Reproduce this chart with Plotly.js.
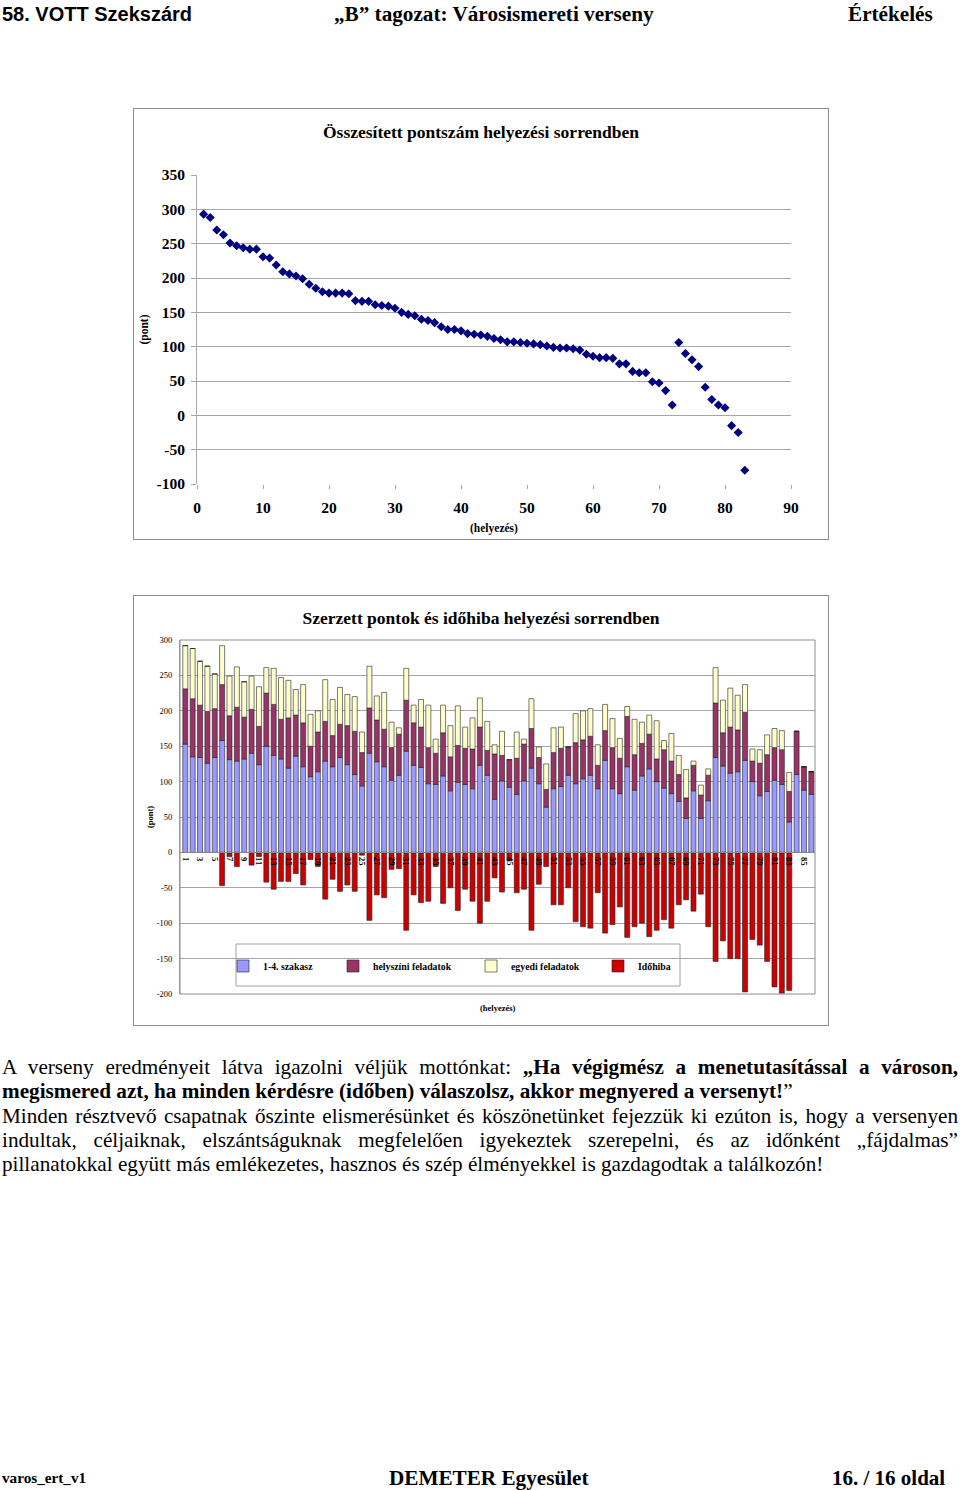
<!DOCTYPE html>
<html><head><meta charset="utf-8">
<script src="https://cdn.plot.ly/plotly-3.0.1.min.js"></script>
<style>
html,body{margin:0;padding:0}
body{width:960px;height:1490px;background:#fff;position:relative;overflow:hidden;font-family:"Liberation Serif","Times New Roman",serif;color:#000}
.abs{position:absolute;white-space:nowrap}
.hdr{font-size:21.2px;font-weight:bold;line-height:22px;top:3px}
.box{position:absolute;border:1px solid #8c8c8c;background:#fff}
#para{position:absolute;left:2px;top:1055px;width:956px;font-size:21.2px;line-height:24.3px}
#para div{white-space:nowrap;overflow:visible}
#para .j{text-align:justify;text-align-last:justify;white-space:normal}
.ftr{font-weight:bold;top:1467px;line-height:22px}
</style></head><body>

<div class="abs hdr" style="left:2px;font-size:20px;font-family:'Liberation Sans',Arial,sans-serif">58. VOTT Szekszárd</div>
<div class="abs hdr" style="left:334px">„B” tagozat: Városismereti verseny</div>
<div class="abs hdr" style="left:848px">Értékelés</div>

<div class="box" style="left:133px;top:108px;width:694px;height:430px"><div id="c1" style="width:694px;height:430px"></div></div>
<div class="box" style="left:133px;top:595px;width:694px;height:429px"><div id="c2" style="width:694px;height:429px"></div></div>

<div id="para">
<div class="j">A verseny eredményeit látva igazolni véljük mottónkat: <b>„Ha végigmész a menetutasítással a városon,</b></div>
<div><b>megismered azt, ha minden kérdésre (időben) válaszolsz, akkor megnyered a versenyt!</b>”</div>
<div class="j">Minden résztvevő csapatnak őszinte elismerésünket és köszönetünket fejezzük ki ezúton is, hogy a versenyen</div>
<div class="j">indultak, céljaiknak, elszántságuknak megfelelően igyekeztek szerepelni, és az időnként „fájdalmas”</div>
<div>pillanatokkal együtt más emlékezetes, hasznos és szép élményekkel is gazdagodtak a találkozón!</div>
</div>

<div class="abs ftr" style="left:2px;font-size:15.2px">varos_ert_v1</div>
<div class="abs ftr" style="left:389px;font-size:21.2px">DEMETER Egyesület</div>
<div class="abs ftr" style="left:832px;font-size:21px">16. / 16 oldal</div>

<script>
// ---- data ----
const ranks = [1,2,3,4,5,6,7,8,9,10,11,12,13,14,15,16,17,18,19,20,21,22,23,24,25,26,27,28,29,30,31,32,33,34,35,36,37,38,39,40,41,42,43,44,45,46,47,48,49,50,51,52,53,54,55,56,57,58,59,60,61,62,63,64,65,66,67,68,69,70,71,72,73,74,75,76,77,78,79,80,81,82,83,84,85,86];

// Összesített pontszám (83 teams)
const totalScore = [293,288,270,263,251,247,244,242,242,231,229,219,209,206,203,199,191,185,180,178,178,178,177,167,166,166,161,160,159,156,150,147,145,140,138,135,129,125,125,123,119,118,117,115,112,110,107,107,106,105,104,103,101,99,98,98,97,95,89,86,84,84,83,75,75,64,62,62,49,47,36,15,106,90,81,71,41,23,15,11,-15,-25,-80];

const seriesNames = ['1-4. szakasz','helyszíni feladatok','egyedi feladatok','Időhiba'];
const szakasz = [153,135,134,126,134,158,131,129,132,140,124,150,137,132,119,136,121,107,114,129,121,134,124,110,94,140,128,121,102,109,143,123,120,97,96,108,87,99,96,90,123,109,75,101,92,82,101,119,97,64,90,93,109,97,104,109,90,130,90,83,121,88,108,118,100,91,83,72,48,87,48,73,134,122,112,114,130,100,80,86,102,96,43,110,88,82];
const helyszini = [78,82,74,73,69,79,62,76,59,62,54,75,72,56,71,58,62,43,56,56,44,47,55,61,47,64,59,53,46,58,72,60,57,51,44,61,48,52,51,56,54,35,64,36,39,51,52,56,37,25,51,54,40,58,55,55,33,42,58,50,71,50,46,49,32,54,46,38,29,36,33,36,77,47,65,59,68,29,46,52,46,49,43,61,33,32];
const egyedi = [61,71,62,64,49,55,56,57,50,47,56,36,51,59,53,36,54,45,30,59,51,52,44,49,29,59,34,52,36,9,45,25,39,60,20,39,44,56,30,44,41,41,13,34,0,37,7,42,15,36,35,30,0,41,41,39,29,37,41,28,14,50,30,27,54,13,39,27,40,6,14,9,50,46,55,49,39,17,19,28,27,27,27,0,0,0];
const idohiba = [0,0,0,0,0,-47,-6,-20,0,-18,-6,-42,-52,-41,-41,-30,-46,-10,-20,-66,-38,-55,-46,-55,-4,-96,-60,-64,-24,-23,-110,-60,-71,-69,-20,-72,-50,-82,-52,-69,-100,-69,-36,-56,-12,-57,-52,-110,-45,-20,-74,-74,-50,-98,-105,-107,-57,-114,-102,-77,-120,-105,-100,-119,-110,-95,-107,-74,-67,-83,-59,-105,-154,-125,-150,-150,-197,-123,-131,-154,-190,-199,-195,0,0,0];
const barTickVals = [1,3,5,7,9,11,13,15,17,19,21,23,25,27,29,31,33,35,37,39,41,43,45,47,49,51,53,55,57,59,61,63,65,67,69,71,73,75,77,79,81,83,85];
const y1Ticks = [-100,-50,0,50,100,150,200,250,300,350];
const y1TickText = ['-100','-50','0','50','100','150','200','250','300','350'];
const y2Ticks = [-200,-150,-100,-50,0,50,100,150,200,250,300];
const y2TickText = ['-200','-150','-100','-50','0','50','100','150','200','250','300'];
const barColors = ['#9999FF','#993366','#FFFFCC','#CC0000'];

const serif = 'Liberation Serif, Times New Roman, serif';
const grid = '#a6a6a6';

// ---- chart 1 ----
Plotly.newPlot('c1', [{
  type:'scatter', mode:'markers',
  x: ranks.slice(0, totalScore.length), y: totalScore,
  marker:{symbol:'diamond', size:7, color:'#000080'},
  hoverinfo:'x+y'
}], {
  width:694, height:430,
  margin:{l:63, r:37, t:66, b:55},
  paper_bgcolor:'#fff', plot_bgcolor:'#fff',
  showlegend:false,
  font:{family:serif, color:'#000'},
  title:{text:'Összesített pontszám helyezési sorrendben', font:{family:serif, size:17.5, weight:'bold', color:'#000'},
         x:0.5, xref:'container', xanchor:'center', y:1-23/430, yref:'container', yanchor:'middle'},
  xaxis:{range:[0,90], dtick:10, tick0:0, showgrid:false, zeroline:false, showline:false,
         ticks:'outside', ticklen:4, tickcolor:grid, ticklabelstandoff:5,
         tickfont:{family:serif, size:15.5, weight:'bold', color:'#000'}},
  yaxis:{range:[-100,350], tickvals:y1Ticks, ticktext:y1TickText, showgrid:true, gridcolor:grid, gridwidth:1, zeroline:false,
         showline:true, linecolor:grid, ticks:'outside', ticklen:5, tickcolor:grid, ticklabelstandoff:3,
         tickfont:{family:serif, size:15.5, weight:'bold', color:'#000'}},
  annotations:[
    {text:'(pont)', xref:'paper', yref:'paper', x:(144-197)/594, y:0.5, textangle:-90, showarrow:false,
     xanchor:'center', yanchor:'middle', font:{family:serif, size:11.5, weight:'bold'}},
    {text:'(helyezés)', xref:'paper', yref:'paper', x:0.5, y:-(528-484)/309, showarrow:false,
     xanchor:'center', yanchor:'middle', font:{family:serif, size:11.5, weight:'bold'}}
  ]
}, {displayModeBar:false, staticPlot:true});

// ---- chart 2 ----
const series = [szakasz, helyszini, egyedi, idohiba];
const legendIds = ['legend','legend2','legend3','legend4'];
const traces2 = series.map((vals, i) => ({
  type:'bar', name:seriesNames[i], x:ranks, y:vals, legend:legendIds[i],
  marker:{color:barColors[i], line:{color:'#222', width:0.6}}
}));
const legendSymbolX = [223, 333, 471, 598];
const legendFont = {family:serif, size:9.8, weight:'bold', color:'#000'};
const layout2 = {
  width:694, height:429,
  margin:{l:46, r:13, t:44, b:31},
  paper_bgcolor:'#fff', plot_bgcolor:'#fff',
  barmode:'relative', bargap:0.32,
  font:{family:serif, color:'#000'},
  title:{text:'Szerzett pontok és időhiba helyezési sorrendben', font:{family:serif, size:17.5, weight:'bold', color:'#000'},
         x:(481-134)/694, xref:'container', xanchor:'center', y:1-22/429, yref:'container', yanchor:'middle'},
  xaxis:{range:[0.28,86.5], tickvals:barTickVals, ticktext:barTickVals.map(String), tickangle:90,
         anchor:'free', position:0.4, showgrid:false, zeroline:false, showline:true, linecolor:'#888',
         ticks:'', ticklabelstandoff:2, automargin:false,
         tickfont:{family:serif, size:8.5, weight:'bold', color:'#000'}},
  yaxis:{range:[-200,300], tickvals:y2Ticks, ticktext:y2TickText, domain:[0,1], showgrid:true, gridcolor:grid, gridwidth:1, zeroline:false,
         showline:true, linecolor:grid, ticks:'', ticklabelstandoff:5,
         tickfont:{family:serif, size:8.5, color:'#000'}},
  showlegend:true,
  shapes:[
    {type:'rect', xref:'paper', yref:'paper', x0:0, x1:1, y0:0, y1:1, line:{color:'#8c8c8c', width:1}, layer:'above'},
    {type:'rect', xref:'paper', yref:'paper', x0:(236-180)/635, x1:(680-180)/635, y0:(994-986)/354, y1:(994-944)/354,
     line:{color:'#a0a0a0', width:1}, fillcolor:'#fff', layer:'below'}
  ],
  annotations:[
    {text:'(pont)', xref:'paper', yref:'paper', x:(150-180)/635, y:0.5, textangle:-90, showarrow:false,
     xanchor:'center', yanchor:'middle', font:{family:serif, size:8.5, weight:'bold'}},
    {text:'(helyezés)', xref:'paper', yref:'paper', x:(498-180)/635, y:-(1008-994)/354, showarrow:false,
     xanchor:'center', yanchor:'middle', font:{family:serif, size:8.5, weight:'bold'}}
  ]
};
legendIds.forEach((id, i) => {
  layout2[id] = {orientation:'h', x:(legendSymbolX[i]-180)/635, xanchor:'left', y:(994-966)/354, yanchor:'middle',
                 bgcolor:'rgba(0,0,0,0)', borderwidth:0, itemwidth:30, font:legendFont};
});
Plotly.newPlot('c2', traces2, layout2, {displayModeBar:false, staticPlot:true});
</script>
</body></html>
